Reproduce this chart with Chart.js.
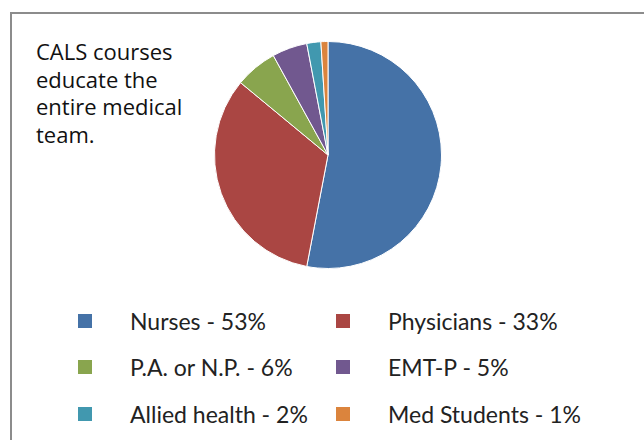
<!DOCTYPE html>
<html>
<head>
<meta charset="utf-8">
<script src="https://cdn.jsdelivr.net/npm/chart.js@4/dist/chart.umd.min.js"></script>
<style>
  body { margin: 0; background: #fff; }
  #wrap { position: relative; width: 644px; height: 440px; overflow: hidden; background: #fff; }
  #frame { position: absolute; left: 10px; top: 12px; width: 700px; height: 500px; border: 2px solid #8c8c8c; }
  #note { position: absolute; left: 36px; top: 38px; font-family: "Open Sans", sans-serif; font-size: 22px; line-height: 27.5px; color: #111; }
  #pie { position: absolute; left: 214px; top: 41px; width: 228px; height: 228px; }
  #legend { position: absolute; left: 0; top: 0; font-family: Lato, sans-serif; font-size: 23px; line-height: 27px; color: #222; }
  .item { position: absolute; white-space: nowrap; }
  .box { position: absolute; width: 14px; height: 14px; }
</style>
</head>
<body>
<div id="wrap">
  <div id="frame"></div>
  <div id="note">CALS courses<br>educate the<br>entire medical<br>team.</div>
  <div id="pie"><canvas id="myChart" width="228" height="228"></canvas></div>
  <div id="legend"></div>
</div>
<script>
const categories = ['Nurses', 'Physicians', 'P.A. or N.P.', 'EMT-P', 'Allied health', 'Med Students'];
const shares = [53, 33, 6, 5, 2, 1];
const colors = ['#4572A7', '#AA4643', '#89A54E', '#71588F', '#4198AF', '#DB843D'];

// Pie

let ctx = document.getElementById('myChart').getContext('2d');
let pie = new Chart(ctx, {
  type: 'pie',
  data: {
    labels: categories,
    datasets: [{
      data: shares,
      backgroundColor: colors,
      borderColor: '#ffffff',
      borderWidth: 1
    }]
  },
  options: {
    responsive: false,
    animation: false,
    layout: { padding: 0 },
    plugins: {
      legend: { display: false },
      tooltip: { enabled: false }
    }
  }
});

// Legend, two columns

let legend = document.getElementById('legend');
let colX = [78, 336];
let rowY = [320.5, 367, 413.5];
pie.data.labels.forEach((label, i) => {
  let x = colX[i % 2];
  let y = rowY[Math.floor(i / 2)];
  let box = document.createElement('div');
  box.className = 'box';
  box.style.left = `${x}px`;
  box.style.top = `${y - 7}px`;
  box.style.background = pie.data.datasets[0].backgroundColor[i];
  legend.appendChild(box);

  let item = document.createElement('div');
  item.className = 'item';
  item.style.left = `${x + 52}px`;
  item.style.top = `${y - 13}px`;
  item.textContent = `${label} - ${pie.data.datasets[0].data[i]}%`;
  legend.appendChild(item);
});
</script>
</body>
</html>
